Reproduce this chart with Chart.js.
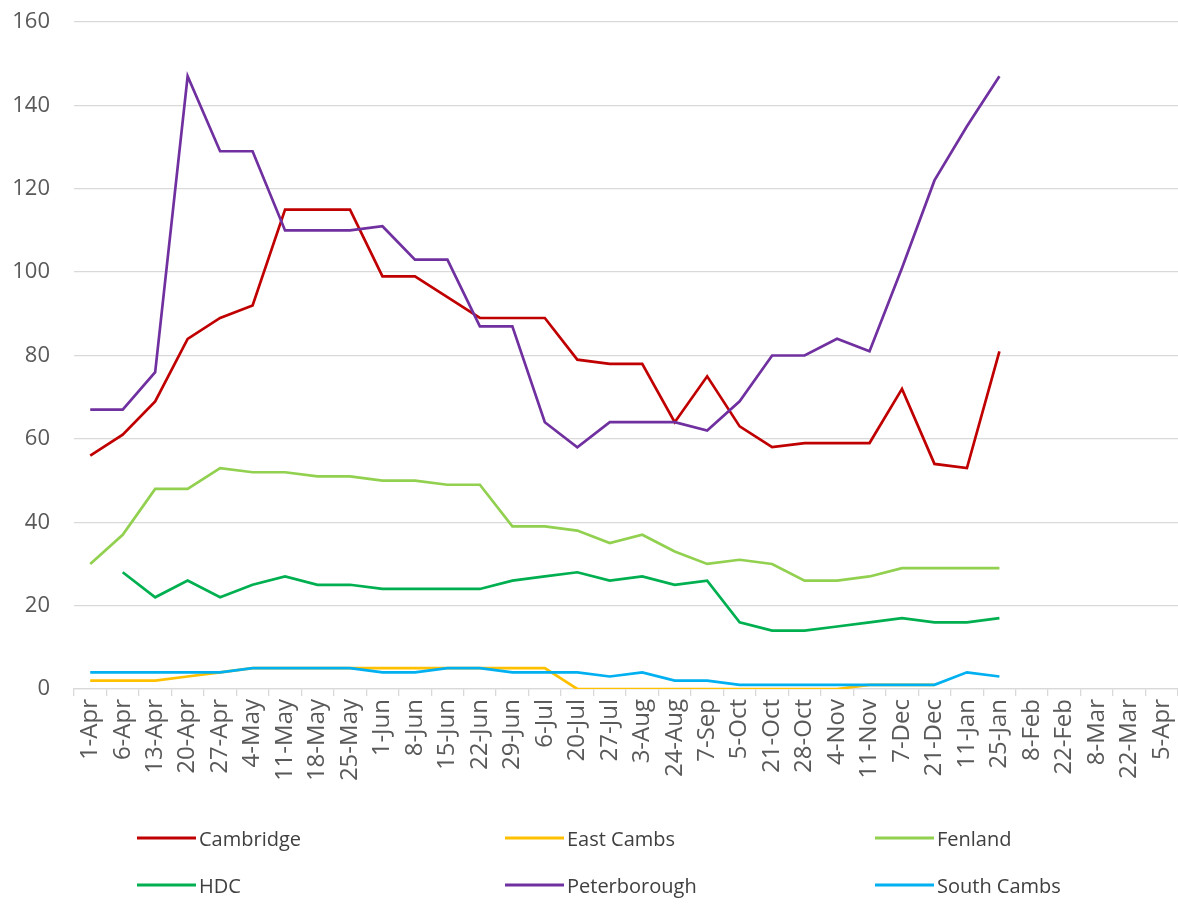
<!DOCTYPE html>
<html>
<head>
<meta charset="utf-8">
<script src="https://cdn.jsdelivr.net/npm/chart.js@4.4.1/dist/chart.umd.min.js"></script>
<style>
    html, body { margin: 0; padding: 0; background: #fff; }
    #wrap { position: relative; width: 1178px; height: 905px; }
    #legend { position: absolute; left: 0; top: 0; width: 1178px; height: 905px; pointer-events: none;
        font-family: "Open Sans", sans-serif; font-size: 20px; color: #404040; }
    .item { position: absolute; display: flex; align-items: center; transform: translateY(-50%); }
    .swatch { display: inline-block; width: 59px; height: 3px; margin-right: 3px; }
</style>
</head>
<body>
<div id="wrap">
    <canvas id="chart" width="1178" height="905"></canvas>
    <div id="legend"></div>
</div>
<script>
const labels = ["1-Apr", "6-Apr", "13-Apr", "20-Apr", "27-Apr", "4-May", "11-May", "18-May", "25-May",
    "1-Jun", "8-Jun", "15-Jun", "22-Jun", "29-Jun", "6-Jul", "20-Jul", "27-Jul", "3-Aug", "24-Aug",
    "7-Sep", "5-Oct", "21-Oct", "28-Oct", "4-Nov", "11-Nov", "7-Dec", "21-Dec", "11-Jan", "25-Jan",
    "8-Feb", "22-Feb", "8-Mar", "22-Mar", "5-Apr"];

const cambridge = [56, 61, 69, 84, 89, 92, 115, 115, 115, 99, 99, 94, 89, 89, 89, 79, 78, 78, 64, 75, 63, 58, 59, 59, 59, 72, 54, 53, 81];
const eastCambs = [2, 2, 2, 3, 4, 5, 5, 5, 5, 5, 5, 5, 5, 5, 5, 0, 0, 0, 0, 0, 0, 0, 0, 0, 1, 1, 1, null, null];
const fenland = [30, 37, 48, 48, 53, 52, 52, 51, 51, 50, 50, 49, 49, 39, 39, 38, 35, 37, 33, 30, 31, 30, 26, 26, 27, 29, 29, 29, 29];
const hdc = [null, 28, 22, 26, 22, 25, 27, 25, 25, 24, 24, 24, 24, 26, 27, 28, 26, 27, 25, 26, 16, 14, 14, 15, 16, 17, 16, 16, 17];
const peterborough = [67, 67, 76, 147, 129, 129, 110, 110, 110, 111, 103, 103, 87, 87, 64, 58, 64, 64, 64, 62, 69, 80, 80, 84, 81, 101, 122, 135, 147];
const southCambs = [4, 4, 4, 4, 4, 5, 5, 5, 5, 4, 4, 5, 5, 4, 4, 4, 3, 4, 2, 2, 1, 1, 1, 1, 1, 1, 1, 4, 3];

const seriesNames = ["Cambridge", "East Cambs", "Fenland", "HDC", "Peterborough", "South Cambs"];
const seriesColors = ["#C00000", "#FFC000", "#92D050", "#00B050", "#7030A0", "#00B0F0"];
const seriesData = [cambridge, eastCambs, fenland, hdc, peterborough, southCambs];

const datasets = seriesNames.map((name, i) => ({
    label: name,
    data: seriesData[i],
    borderColor: seriesColors[i],
    backgroundColor: seriesColors[i],
    borderWidth: 2.7,
    pointRadius: 0,
    tension: 0,
    fill: false,
    order: seriesNames.length - i  // later series on top, like the original
}));

new Chart(document.getElementById("chart"), {
    type: "line",
    data: { labels: labels, datasets: datasets },
    options: {
        responsive: false,
        animation: false,
        devicePixelRatio: 1,
        layout: { padding: { top: 22, right: 0, bottom: 96, left: 0 } },
        plugins: { legend: { display: false }, tooltip: { enabled: false } },
        scales: {
            x: {
                offset: true,
                afterFit: (axis) => { axis.height = 120; axis.paddingLeft = 0; axis.paddingRight = 0; },
                grid: { offset: true, drawOnChartArea: false, drawTicks: true, tickLength: 7, color: "#d9d9d9", lineWidth: 1.3 },
                border: { display: true, color: "#d9d9d9", width: 1.3 },
                ticks: {
                    autoSkip: false, minRotation: 90, maxRotation: 90, padding: 3,
                    color: "#595959", font: { family: "Open Sans", size: 24 }
                }
            },
            y: {
                min: 0, max: 160,
                afterFit: (axis) => { axis.width = 74; axis.paddingTop = 0; axis.paddingBottom = 0; },
                grid: { color: "#d9d9d9", lineWidth: 1.3, drawTicks: false },
                border: { display: false },
                ticks: {
                    stepSize: 20, padding: 24,
                    color: "#595959", font: { family: "Open Sans", size: 22 }
                }
            }
        }
    }
});

// legend: 3 columns x 2 rows below the axis
const legendElm = document.getElementById("legend");
const colX = [137, 505, 875];
const rowY = [838, 885];
seriesNames.forEach((name, i) => {
    const item = document.createElement("div");
    item.className = "item";
    item.style.left = colX[i % 3] + "px";
    item.style.top = rowY[Math.floor(i / 3)] + "px";
    const sw = document.createElement("span");
    sw.className = "swatch";
    sw.style.background = seriesColors[i];
    const txt = document.createElement("span");
    txt.textContent = name;
    item.appendChild(sw);
    item.appendChild(txt);
    legendElm.appendChild(item);
});
</script>
</body>
</html>
